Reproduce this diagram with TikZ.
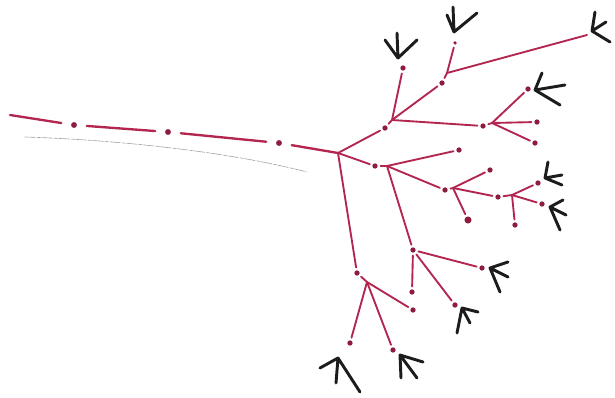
\documentclass[tikz,border=0pt]{standalone}
\usepackage{tikz}
\definecolor{twigred}{HTML}{B3264F}
\definecolor{budred}{HTML}{8E1C3E}
\definecolor{clawblack}{HTML}{1C1C1C}
\definecolor{pencilgray}{HTML}{A0A0A0}

\begin{document}
\begin{tikzpicture}[x=0.03cm,y=-0.03cm,line cap=round,
  dot/.style={circle,fill=budred,inner sep=0pt,minimum size=4.5pt,outer sep=2.5pt},
  fork/.style={coordinate},
  twig/.style={draw=twigred,line width=1.6pt},
  trunk/.style={twig,line width=2pt,shorten <=6pt,shorten >=6pt},
  claw/.style={draw=clawblack,line width=2.5pt},
  pencil/.style={draw=pencilgray,line width=0.5pt,dash pattern=on 9pt off 1.5pt on 3pt off 1pt}]
\useasboundingbox (0,0) rectangle (615,398);
\coordinate (s0) at (10,115);
\node[dot,minimum size=5pt] (d1) at (74,125) {};
\node[dot,minimum size=5pt] (d2) at (168,132) {};
\node[dot,minimum size=5pt] (d3) at (279,143) {};
\node[fork] (j0) at (338,153) {};
\coordinate (g0) at (25,137);
\coordinate (g1) at (307,172);
\draw[pencil] (g0) .. controls (120,140) and (230,152) .. (g1);
\draw[trunk,shorten <=0pt] (s0) -- (d1);
\draw[trunk] (d1) -- (d2);
\draw[trunk] (d2) -- (d3);
\draw[trunk,shorten >=0pt] (d3) -- (j0);
\node[dot] (a1) at (385,128) {};
\node[fork] (k1) at (392,120) {};
\node[dot] (b1) at (403,68) {};
\node[dot] (b2) at (442,83) {};
\node[fork] (k2) at (447,73) {};
\node[dot,minimum size=3pt] (b3) at (455,43) {};
\coordinate (t1) at (587,35);
\node[dot] (c1) at (483,126) {};
\node[fork] (k3) at (492,123) {};
\node[dot] (c2) at (528,89) {};
\node[dot] (c3) at (537,122) {};
\node[dot] (c4) at (535,143) {};
\draw[twig] (j0) -- (a1);
\draw[twig] (a1) -- (k1);
\draw[twig] (k1) -- (b1);
\draw[twig] (k1) -- (b2);
\draw[twig] (b2) -- (k2);
\draw[twig] (k2) -- (b3);
\draw[twig] (k2) -- (t1);
\draw[twig] (k1) -- (c1);
\draw[twig] (c1) -- (k3);
\draw[twig] (k3) -- (c2);
\draw[twig] (k3) -- (c3);
\draw[twig] (k3) -- (c4);
\node[dot] (e1) at (375,166) {};
\node[fork] (k4) at (387,166) {};
\node[dot] (e2) at (459,150) {};
\node[dot] (e3) at (445,190) {};
\node[fork] (k5) at (453,188) {};
\node[dot] (e4) at (490,170) {};
\node[dot,minimum size=6pt] (e5) at (468,220) {};
\node[dot] (e6) at (498,197) {};
\node[fork] (k6) at (512,195) {};
\node[dot] (e7) at (538,183) {};
\node[dot] (e8) at (542,204) {};
\node[dot] (e9) at (515,225) {};
\node[dot] (e10) at (413,250) {};
\node[dot] (e11) at (482,268) {};
\node[dot] (e12) at (455,305) {};
\node[dot] (e13) at (412,292) {};
\draw[twig] (j0) -- (e1);
\draw[twig] (e1) -- (k4);
\draw[twig] (k4) -- (e2);
\draw[twig] (k4) -- (e3);
\draw[twig] (e3) -- (k5);
\draw[twig] (k5) -- (e4);
\draw[twig] (k5) -- (e5);
\draw[twig] (k5) -- (e6);
\draw[twig] (e6) -- (k6);
\draw[twig] (k6) -- (e7);
\draw[twig] (k6) -- (e8);
\draw[twig] (k6) -- (e9);
\draw[twig] (k4) -- (e10);
\draw[twig] (e10) -- (e11);
\draw[twig] (e10) -- (e12);
\draw[twig] (e10) -- (e13);
\node[dot] (f1) at (357,273) {};
\node[fork] (k7) at (367,282) {};
\node[dot] (f2) at (350,343) {};
\node[dot] (f3) at (393,350) {};
\node[dot] (f4) at (413,310) {};
\draw[twig] (j0) -- (f1);
\draw[twig] (f1) -- (k7);
\draw[twig] (k7) -- (f2);
\draw[twig] (k7) -- (f3);
\draw[twig] (k7) -- (f4);
\coordinate (fb1) at (398,58);
\coordinate (fb3) at (454,32);
\coordinate (ft1) at (592,31);
\coordinate (fc2) at (535,90);
\coordinate (fe7) at (545,178);
\coordinate (fe8) at (550,207);
\coordinate (fe11) at (490,268);
\coordinate (fe12) at (462,308);
\coordinate (ff2) at (338,358);
\coordinate (ff3) at (400,355);
\draw[claw] (fb1) -- +(-13,-18) (fb1) -- +(19,-18) (fb1) -- +(-1,-25);
\draw[claw] (fb3) -- +(-7,-17) (fb3) -- +(23,-19) (fb3) -- +(-1,-25);
\draw[claw] (ft1) -- +(3,-19) (ft1) -- +(14,-9) (ft1) -- +(18,11);
\draw[claw] (fc2) -- +(7,-17) (fc2) -- +(30,-5) (fc2) -- +(25,15);
\draw[claw] (fe7) -- +(3,-16) (fe7) -- +(17,-3) (fe7) -- +(17,7);
\draw[claw] (fe8) -- +(13,-7) (fe8) -- +(16,8) (fe8) -- +(10,23);
\draw[claw] (fe11) -- +(18,-6) (fe11) -- +(18,9) (fe11) -- +(10,24);
\draw[claw] (fe12) -- +(16,4) (fe12) -- +(8,15) (fe12) -- +(-5,25);
\draw[claw] (ff2) -- +(-18,10) (ff2) -- +(-2,25) (ff2) -- +(22,34);
\draw[claw] (ff3) -- +(1,23) (ff3) -- +(23,7) (ff3) -- +(17,23);
\end{tikzpicture}
\end{document}
